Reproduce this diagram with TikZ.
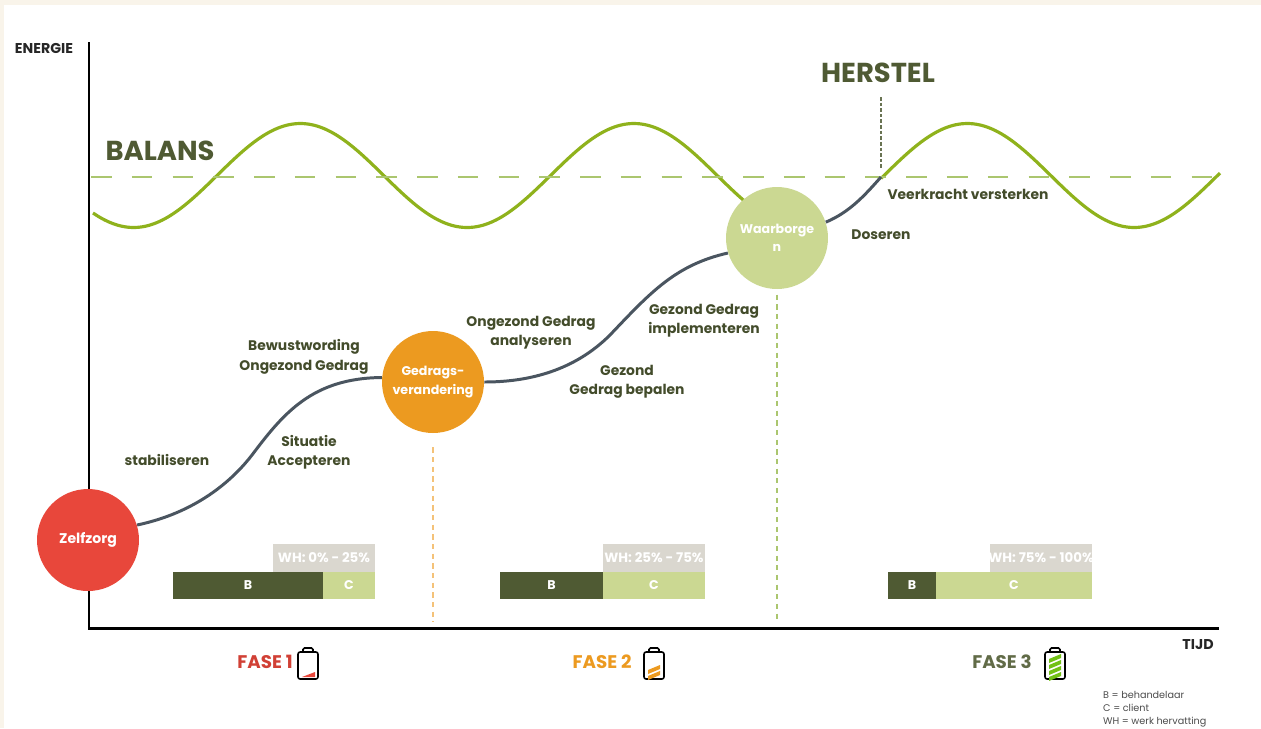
\documentclass[tikz,border=0pt]{standalone}
\usepackage{fontspec}
\setmainfont{Poppins}
\definecolor{olive}{HTML}{4F5A33}
\definecolor{lime}{HTML}{CBD892}
\definecolor{wavegreen}{HTML}{8FB21C}
\definecolor{dashgreen}{HTML}{ABC66F}
\definecolor{slate}{HTML}{4A5560}
\definecolor{redfase}{HTML}{E8473B}
\definecolor{orangefase}{HTML}{EC9A20}
\definecolor{wishgrey}{HTML}{DAD7CF}
\definecolor{cream}{HTML}{F9F4EA}
\tikzset{
    lbl/.style={font=\fontsize{7.9}{11}\selectfont\bfseries, text=olive!85!black, align=center},
    fasecircle/.style={circle, minimum size=2.04cm, inner sep=0pt, text=white, align=center,
        font=\fontsize{7.2}{10.5}\selectfont\bfseries},
    barlbl/.style={text=white, font=\fontsize{7.2}{8}\selectfont\bfseries},
    wave/.style={wavegreen, line width=1.8pt},
    curve/.style={slate, line width=1.7pt},
    axisline/.style={black, line width=1.7pt},
    fasetitle/.style={font=\fontsize{10.4}{12}\selectfont\bfseries},
    axistitle/.style={font=\fontsize{8.1}{8}\selectfont\bfseries, text=black!85},
    heading/.style={font=\fontsize{15.6}{16}\selectfont\bfseries, text=olive},
}
\begin{document}
\begin{tikzpicture}[x=0.02cm, y=-0.02cm]
    % Canvas
    \useasboundingbox (0,0) rectangle (1261,728);
    \fill[white] (0,0) rectangle (1261,728);
    \fill[cream] (0,0) rectangle (1261,5);
    \fill[cream] (0,0) rectangle (4,728);

    % Parameters
    \def\period{333.5}
    \def\amp{52}

    % Balance line and waves
    \draw[wave] plot[domain=93:750, samples=120, smooth] (\x,{175.5-\amp*sin((\x-217)/\period*360)});
    \draw[wave] plot[domain=881:1220, samples=60, smooth] (\x,{175.5-\amp*sin((\x-217)/\period*360)});
    \draw[dashgreen, line width=1.1pt, dash pattern=on 11.7pt off 11.5pt] (91,177) -- (1220,177);

    % Axes
    \coordinate (origin) at (89,628);
    \draw[axisline] (89,42) -- (origin) -- (1219,628);
    \node[axistitle] (energie) at (44,48) {ENERGIE};
    \node[axistitle] (tijd) at (1198,645) {TIJD};

    % Phase circles
    \node[fasecircle, fill=redfase, font=\fontsize{8}{10}\selectfont\bfseries] (zelfzorg) at (88,540) {Zelfzorg};
    \node[fasecircle, fill=orangefase] (gedrag) at (433,382) {Gedrags-\\verandering};
    \node[fasecircle, fill=lime] (waarborgen) at (777,238) {Waarborge\\n};

    % Energy curve
    \coordinate (bocht1) at (252,455);
    \coordinate (bocht2) at (610,335);
    \coordinate (herstelpunt) at (881,177);
    \draw[curve] (zelfzorg.17) .. controls (185,515) and (225,490) .. (bocht1)
        .. controls (283,414) and (312,378) .. (gedrag.175);
    \draw[curve] (gedrag.east) .. controls (530,382) and (575,370) .. (bocht2)
        .. controls (650,293) and (675,265) .. (waarborgen.197);
    \draw[curve] (waarborgen.18) .. controls (850,212) and (865,195) .. (herstelpunt);

    % Vertical markers
    \coordinate (gedragend) at (433,622);
    \coordinate (waarborgend) at (777,620);
    \coordinate (hersteltop) at (881,97);
    \draw[orangefase!60, line width=0.9pt, dash pattern=on 3pt off 2.5pt, shorten <=8pt] (gedrag.south) -- (gedragend);
    \draw[dashgreen, line width=0.9pt, dash pattern=on 3pt off 2.5pt, shorten <=3pt] (waarborgen.south) -- (waarborgend);
    \draw[olive!85, line width=0.9pt, dash pattern=on 2pt off 1.2pt, shorten >=4pt] (hersteltop) -- (herstelpunt);

    % Headings
    \node[heading] (balans) at (160,151) {BALANS};
    \node[heading] (herstel) at (878,73) {HERSTEL};

    % Labels along the curve
    \node[lbl] (stabiliseren) at (167,460) {stabiliseren};
    \node[lbl] (bewust) at (304,357) {Bewustwording\\Ongezond Gedrag};
    \node[lbl] (situatie) at (309,452) {Situatie\\Accepteren};
    \node[lbl] (analyseren) at (531,333) {Ongezond Gedrag\\analyseren};
    \node[lbl] (bepalen) at (627,382) {Gezond\\Gedrag bepalen};
    \node[lbl] (implementeren) at (704,321) {Gezond Gedrag\\implementeren};
    \node[lbl] (doseren) at (881,235) {Doseren};
    \node[lbl] (veerkracht) at (968,194) {Veerkracht versterken};

    % Work share bars
    \foreach \xa/\xb/\xc/\xw/\wh in {173/323/375/273/{WH: 0\% - 25\%},
                                     500/603/705/603/{WH: 25\% - 75\%},
                                     888/936/1092/990/{WH: 75\% - 100\%}} {
        \fill[wishgrey] (\xw,544) rectangle (\xc,572) node[barlbl, midway, font=\fontsize{7.6}{8}\selectfont\bfseries] {\wh};
        \fill[olive] (\xa,572) rectangle (\xb,599) node[barlbl, midway] {B};
        \fill[lime] (\xb,572) rectangle (\xc,599) node[barlbl, midway] {C};
    }

    % Phase titles
    \node[fasetitle, text=redfase!90!black] (fase1) at (265,662) {FASE 1};
    \node[fasetitle, text=orangefase] (fase2) at (602,662) {FASE 2};
    \node[fasetitle, text=olive!90] (fase3) at (1002,662) {FASE 3};

    % Batteries
    \foreach \bx in {298,644,1045} {
        \draw[black, line width=0.9pt, rounded corners=1.2pt] (\bx,652) rectangle ++(20,27);
        \draw[black, line width=0.9pt, rounded corners=0.8pt] (\bx+5,652) -- ++(0,-4) -- ++(10,0) -- ++(0,4);
    }
    \fill[redfase] (302,677) -- (315,677) -- (315,672) -- cycle;
    \foreach \by in {667,673} {
        \fill[orangefase] (648,\by+3) -- (660,\by-2) -- (660,\by+2) -- (648,\by+7) -- cycle;
    }
    \foreach \by in {658,664,670,676} {
        \fill[wavegreen!80!green] (1049,\by+1) -- (1061,\by-4) -- (1061,\by) -- (1049,\by+5) -- cycle;
    }

    % Legend
    \node[font=\fontsize{5.5}{7.4}\selectfont, text=black!70, align=left, anchor=north west] (legenda) at (1097,685)
        {B = behandelaar\\C = client\\WH = werk hervatting};
\end{tikzpicture}
\end{document}
